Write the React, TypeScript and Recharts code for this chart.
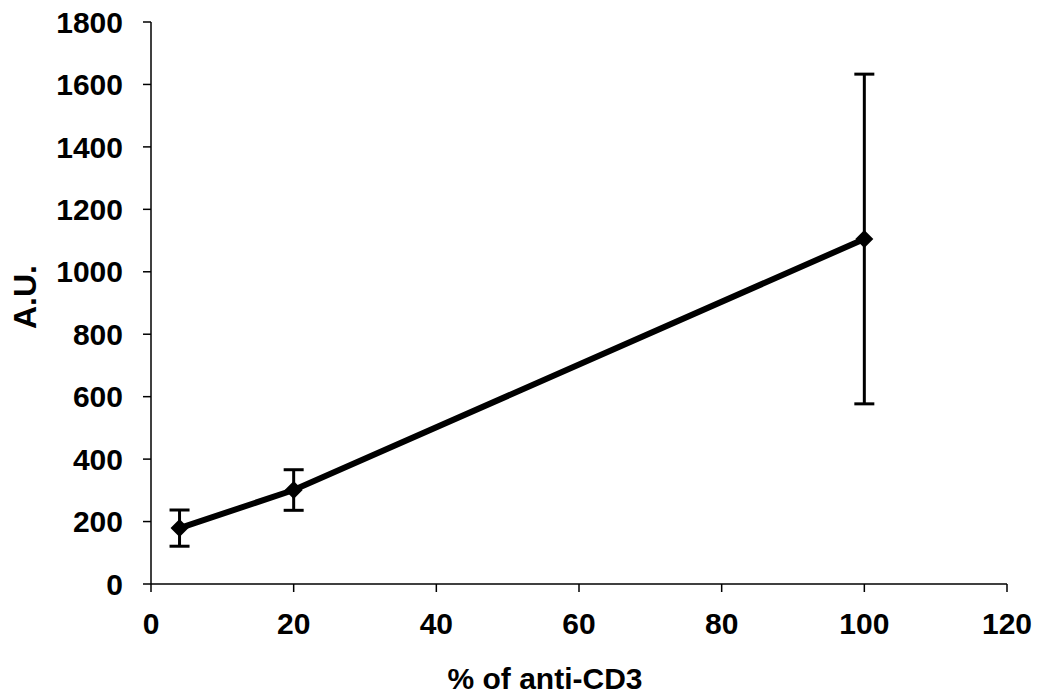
import React from 'react';
import { ComposedChart, Line, XAxis, YAxis, ErrorBar, Label } from 'recharts';

const xValues = [4, 20, 100];
const yValues = [179, 301, 1105];
const errValues = [58, 65, 528];
const xTicks = [0, 20, 40, 60, 80, 100, 120];
const yTicks = [0, 200, 400, 600, 800, 1000, 1200, 1400, 1600, 1800];

const data = xValues.map((x, i) => ({ x, y: yValues[i], err: errValues[i] }));

const FONT = '"Liberation Sans", Arial, sans-serif';

const Diamond = (props: any) => {
  const { cx, cy } = props;
  if (cx == null || cy == null) return null;
  const r = 9;
  return <path d={`M${cx},${cy - r} L${cx + r},${cy} L${cx},${cy + r} L${cx - r},${cy} Z`} fill="#000" />;
};

export default function App() {
  return (
    <div style={{ position: 'absolute', left: 0, top: 0, width: 1039, height: 698, background: '#fff' }}>
      <ComposedChart width={1039} height={698} data={data} margin={{ top: 22, right: 32, bottom: 0, left: 0 }}>
        <XAxis
          dataKey="x"
          type="number"
          domain={[0, 120]}
          ticks={xTicks}
          height={114}
          tickSize={8}
          tickMargin={21}
          axisLine={{ stroke: '#000', strokeWidth: 1.5 }}
          tickLine={{ stroke: '#000', strokeWidth: 1.5 }}
          tick={{ fill: '#000', fontSize: 30, fontWeight: 'bold', fontFamily: FONT }}
        >
          <Label
            content={() => (
              <text x={545} y={689} textAnchor="middle" fill="#000" fontSize={30} fontWeight="bold" fontFamily={FONT}>
                % of anti-CD3
              </text>
            )}
          />
        </XAxis>
        <YAxis
          type="number"
          domain={[0, 1800]}
          ticks={yTicks}
          width={151}
          tickSize={8}
          tickMargin={20}
          interval={0}
          axisLine={{ stroke: '#000', strokeWidth: 1.5 }}
          tickLine={{ stroke: '#000', strokeWidth: 1.5 }}
          tick={{ fill: '#000', fontSize: 30, fontWeight: 'bold', fontFamily: FONT }}
        >
          <Label
            content={() => (
              <text
                x={36}
                y={297}
                transform="rotate(-90 36 297)"
                textAnchor="middle"
                fill="#000"
                fontSize={32}
                fontWeight="bold"
                fontFamily={FONT}
              >
                A.U.
              </text>
            )}
          />
        </YAxis>
        <Line
          dataKey="y"
          stroke="#000"
          strokeWidth={6}
          dot={<Diamond />}
          activeDot={false}
          isAnimationActive={false}
        >
          <ErrorBar dataKey="err" direction="y" width={10} strokeWidth={3} stroke="#000" />
        </Line>
      </ComposedChart>
    </div>
  );
}
